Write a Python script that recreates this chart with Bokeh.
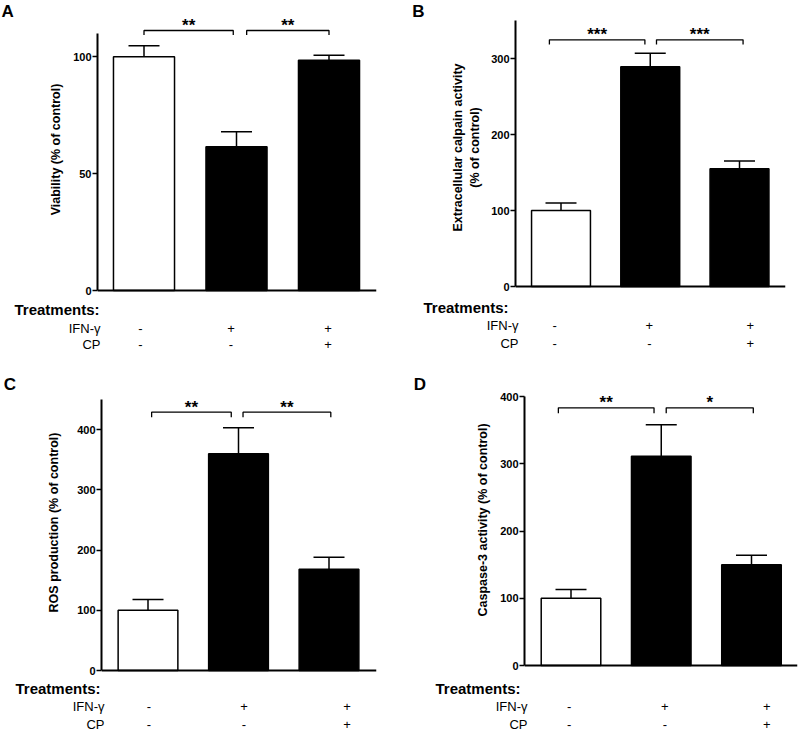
from bokeh.plotting import figure
from bokeh.models import ColumnDataSource, Whisker, TeeHead, FixedTicker, Range1d, Span
from bokeh.layouts import column, row
from bokeh.embed import file_html
from bokeh.resources import INLINE
from bokeh.core.properties import value

# ---------------- data ----------------
groups = [0, 1, 2]                      # Control, IFN-γ, IFN-γ + CP
ifn_row = ["-", "+", "+"]
cp_row = ["-", "-", "+"]
bar_colors = ["white", "black", "black"]

viability_mean = [100, 61.5, 98.6]
viability_sem = [4.8, 6.4, 2.1]
calpain_mean = [100, 289, 155]
calpain_sem = [10, 18, 10]
ros_mean = [100, 360, 168]
ros_sem = [18, 43, 20]
caspase_mean = [100, 311, 150]
caspase_sem = [13, 47, 14]

sig_A = ["**", "**"]
sig_B = ["***", "***"]
sig_C = ["**", "**"]
sig_D = ["**", "*"]

ticks_A = [0, 50, 100]
ticks_B = [0, 100, 200, 300]
ticks_C = [0, 100, 200, 300, 400]
ticks_D = [0, 100, 200, 300, 400]

label_A = "Viability (% of control)"
label_B = "Extracellular calpain activity\n(% of control)"
label_C = "ROS production (% of control)"
label_D = "Caspase-3 activity (% of control)"

FONT = "Liberation Sans"

# ---------------- layout constants (pixels inside each panel) ----------------
panels = [
    dict(letter="A", W=400, H=366, left=97, right=376, base=290,
         axis_top_px=33, axis_top=110, centers=[143.5, 236, 328.5],
         br=[(0.0, 0.965), (1.11, 2.0)], br_px=30, tick_px=34.5,
         cols=[-0.04, 0.94, 1.99], rows=(309, 327.5, 344),
         treat_x=14, letter_xy=(1.0, 11), standoff=7),
    dict(letter="B", W=400, H=366, left=115, right=385, base=286,
         axis_top_px=20, axis_top=350, centers=[160.5, 249.5, 339],
         br=[(-0.13, 0.94), (1.07, 2.04)], br_px=39.3, tick_px=44,
         cols=[-0.07, 0.99, 2.12], rows=(306.7, 325, 343.3),
         treat_x=23, letter_xy=(11.7, 11), standoff=6),
    dict(letter="C", W=400, H=367, left=101, right=376, base=304,
         axis_top_px=33, axis_top=450, centers=[147.5, 238.5, 328.5],
         br=[(0.04, 0.92), (1.05, 2.02)], br_px=45.7, tick_px=50.7,
         cols=[0.01, 1.06, 2.2], rows=(321.7, 340, 358.3),
         treat_x=15, letter_xy=(3.3, 17.7), standoff=13),
    dict(letter="D", W=400, H=367, left=124, right=397, base=299,
         axis_top_px=30, axis_top=400, centers=[170.5, 261.5, 351],
         br=[(-0.14, 0.92), (1.055, 2.02)], br_px=41.3, tick_px=46.7,
         cols=[-0.02, 1.04, 2.17], rows=(321.7, 340, 358.3),
         treat_x=35, letter_xy=(13.3, 17.9), standoff=7),
]

PAD = 8     # pixels below the baseline kept inside the bar figure
STRIP = 32  # width of the strip that carries the panel letter


def blank(W, H, xr, yr):
    f = figure(width=W, height=H, output_backend="svg", toolbar_location=None,
               x_range=xr, y_range=yr, x_axis_location=None, y_axis_location=None,
               min_border=0, title=None, frame_align=False)
    f.outline_line_color = None
    f.background_fill_color = "white"
    f.border_fill_color = "white"
    f.xgrid.visible = False
    f.ygrid.visible = False
    return f


def make_panel(cfg, mean, sem, sig, ticks, ylabel):
    W, H, base = cfg["W"], cfg["H"], cfg["base"]
    c = cfg["centers"]
    spacing = (c[2] - c[0]) / 2.0
    x0 = -(c[0] - cfg["left"]) / spacing
    x1 = 2 + (cfg["right"] - c[2]) / spacing
    yscale = (base - cfg["axis_top_px"]) / cfg["axis_top"]   # px per unit
    mh = base + PAD

    def dx(px):
        return x0 + (px - cfg["left"]) / spacing

    def dy(px):
        return (base - px) / yscale

    # ---- strip with the panel letter ----
    strip = blank(STRIP, mh, Range1d(0, STRIP), Range1d(mh, 0))
    lx, ly = cfg["letter_xy"]
    strip.text(x=[lx], y=[ly], text=[cfg["letter"]], text_font=value(FONT),
               text_font_style="bold", text_font_size="17px", text_align="left",
               text_baseline="middle", text_color="black")

    # ---- main bar chart ----
    p = figure(width=W - STRIP, height=mh, output_backend="svg", toolbar_location=None,
               x_range=Range1d(x0, x1), y_range=Range1d(-PAD / yscale, dy(0)),
               x_axis_location=None, title=None, frame_align=False,
               min_border_left=cfg["left"] - STRIP, min_border_right=W - cfg["right"],
               min_border_top=0, min_border_bottom=0)
    p.outline_line_color = None
    p.background_fill_color = "white"
    p.border_fill_color = "white"
    p.xgrid.visible = False
    p.ygrid.visible = False

    p.yaxis.bounds = (0, cfg["axis_top"])
    p.yaxis.ticker = FixedTicker(ticks=ticks)
    p.yaxis.minor_tick_line_color = None
    p.yaxis.major_tick_in = 0
    p.yaxis.major_tick_out = 5
    p.yaxis.major_tick_line_width = 1.5
    p.yaxis.axis_line_width = 2
    p.yaxis.major_label_standoff = 1
    p.yaxis.major_label_text_font = FONT
    p.yaxis.major_label_text_font_style = "bold"
    p.yaxis.major_label_text_font_size = "11px"
    p.yaxis.major_label_text_color = "black"
    p.yaxis.axis_label = ylabel
    p.yaxis.axis_label_text_font = FONT
    p.yaxis.axis_label_text_font_style = "bold"
    p.yaxis.axis_label_text_font_size = "12.5px"
    p.yaxis.axis_label_text_color = "black"
    p.yaxis.axis_label_standoff = cfg["standoff"]

    p.add_layout(Span(location=0, dimension="width", line_color="black", line_width=2))

    upper = [m + s for m, s in zip(mean, sem)]
    src = ColumnDataSource(dict(x=groups, mean=mean, upper=upper, color=bar_colors))
    p.vbar(x="x", top="mean", width=0.66, source=src, fill_color="color",
           line_color="black", line_width=1.5)
    p.add_layout(Whisker(source=src, base="x", upper="upper", lower="mean",
                         upper_head=TeeHead(size=31, line_width=1.5, line_color="black"),
                         lower_head=None, line_width=1.5, line_color="black"))

    br_y, br_t = dy(cfg["br_px"]), dy(cfg["tick_px"])
    xs, ys, mids = [], [], []
    for a, b in cfg["br"]:
        xs.append([a, a, b, b])
        ys.append([br_t, br_y, br_y, br_t])
        mids.append((a + b) / 2.0)
    p.multi_line(xs=xs, ys=ys, line_color="black", line_width=1.3)
    p.text(x=mids, y=[br_y] * len(mids), text=sig, text_font=value(FONT),
           text_font_style="bold", text_font_size="17px", text_align="center",
           text_baseline="middle", y_offset=-5, text_color="black")

    # ---- treatments table ----
    top = mh
    th = H - top
    tab = blank(W, th, Range1d(dx(0), dx(W)), Range1d(th, 0))
    r0, r1, r2 = [r - top for r in cfg["rows"]]
    tab.text(x=[dx(cfg["treat_x"])], y=[r0], text=["Treatments:"], text_font=value(FONT),
             text_font_style="bold", text_font_size="15px", text_align="left",
             text_baseline="middle", text_color="black")
    tab.text(x=[dx(cfg["left"] + 3)] * 2, y=[r1, r2], text=["IFN-γ", "CP"],
             text_font=value(FONT), text_font_size="13px", text_align="right",
             text_baseline="middle", text_color="black")
    tab.text(x=cfg["cols"] + cfg["cols"], y=[r1] * 3 + [r2] * 3, text=ifn_row + cp_row,
             text_font=value(FONT), text_font_size="13px", text_align="center",
             text_baseline="middle", text_color="black")

    return column(row(strip, p, spacing=0), tab, spacing=0)


pA = make_panel(panels[0], viability_mean, viability_sem, sig_A, ticks_A, label_A)
pB = make_panel(panels[1], calpain_mean, calpain_sem, sig_B, ticks_B, label_B)
pC = make_panel(panels[2], ros_mean, ros_sem, sig_C, ticks_C, label_C)
pD = make_panel(panels[3], caspase_mean, caspase_sem, sig_D, ticks_D, label_D)

layout = column(row(pA, pB, spacing=0), row(pC, pD, spacing=0), spacing=0)
open("out.html", "w").write(file_html(layout, INLINE))
